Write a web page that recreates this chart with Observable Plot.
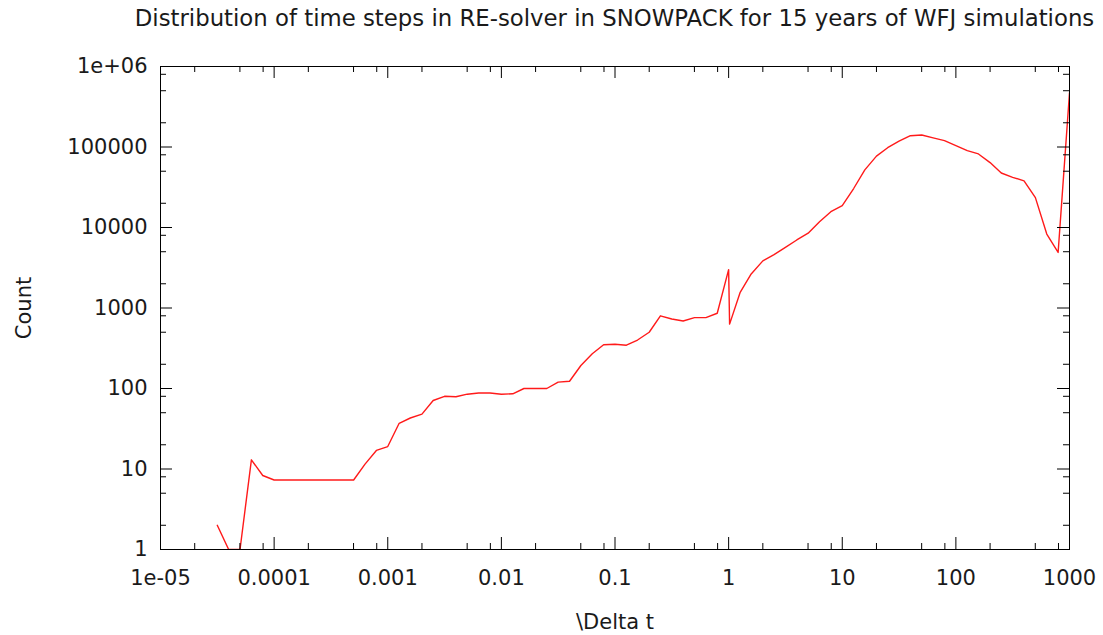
<!DOCTYPE html>
<html>
<head>
<meta charset="utf-8">
<script src="https://cdn.jsdelivr.net/npm/d3@7"></script>
<script src="https://cdn.jsdelivr.net/npm/@observablehq/plot@0.6"></script>
<style>
  body { margin: 0; background: #fff; font-family: "DejaVu Sans", sans-serif; }
  #wrap { position: relative; width: 1103px; height: 635px; overflow: hidden; }
  #title { height: 40px; position: relative; }
  #title span { position: absolute; left: 614.5px; top: 5px; transform: translateX(-50%); white-space: nowrap; font-size: 22.8px; color: #1a1a1a; }
  #chart svg { display: block; }
</style>
</head>
<body>
<div id="wrap">
  <div id="title"><span>Distribution of time steps in RE-solver in SNOWPACK for 15 years of WFJ simulations</span></div>
  <div id="chart"></div>
</div>
<script>
// Time step bins (\Delta t) and counts
const dt = [
  3.16e-5, 3.98e-5, 5.01e-5, 6.31e-5, 7.94e-5,
  1e-4, 1.26e-4, 1.58e-4, 2.0e-4, 2.51e-4, 3.16e-4, 3.98e-4, 5.01e-4, 6.31e-4, 7.94e-4,
  1e-3, 1.26e-3, 1.58e-3, 2.0e-3, 2.51e-3, 3.16e-3, 3.98e-3, 5.01e-3, 6.31e-3, 7.94e-3,
  1e-2, 1.26e-2, 1.58e-2, 2.0e-2, 2.51e-2, 3.16e-2, 3.98e-2, 5.01e-2, 6.31e-2, 7.94e-2,
  0.1, 0.126, 0.158, 0.2, 0.251, 0.316, 0.398, 0.501, 0.631, 0.794,
  1.0, 1.02, 1.26, 1.58, 2.0, 2.51, 3.16, 3.98, 5.01, 6.31, 7.94,
  10, 12.6, 15.8, 20, 25.1, 31.6, 39.8, 50.1, 63.1, 79.4,
  100, 126, 158, 200, 251, 316, 398, 501, 631, 794,
  1000
];
const count = [
  2, 1, 1, 13, 8.3,
  7.3, 7.3, 7.3, 7.3, 7.3, 7.3, 7.3, 7.3, 11.5, 17,
  19, 37, 43, 48, 71, 80, 79, 85, 88, 88,
  85, 86, 100, 100, 100, 120, 123, 193, 270, 350,
  355, 345, 400, 500, 800, 730, 690, 760, 760, 860,
  3000, 630, 1550, 2650, 3850, 4600, 5650, 7000, 8500, 11800, 15700,
  18700, 30500, 52000, 77000, 98000, 118000, 138000, 141000, 130000, 120000,
  104000, 90000, 82000, 64000, 47500, 42000, 38000, 23500, 8300, 4900,
  470000
];

const xTicks = [1e-5, 1e-4, 1e-3, 1e-2, 1e-1, 1, 10, 100, 1000];
const xTickLabels = ["1e-05", "0.0001", "0.001", "0.01", "0.1", "1", "10", "100", "1000"];
const yTicks = [1, 10, 100, 1000, 10000, 100000, 1000000];
const yTickLabels = ["1", "10", "100", "1000", "10000", "100000", "1e+06"];
const minorSteps = [2, 5, 8];

const xMinor = xTicks.slice(0, -1).flatMap(d => minorSteps.map(m => d * m));
const yMinor = yTicks.slice(0, -1).flatMap(d => minorSteps.map(m => d * m));

const data = dt.map((x, i) => ({x, y: count[i]}));

const W = 1103, H = 595, mT = 26, mB = 86, mL = 160, mR = 34;
const fw = W - mL - mR, fh = H - mT - mB;
const major = 12, minor = 6;
const tk = {stroke: "#000", strokeWidth: 1};

const chart = Plot.plot({
  width: W, height: H,
  marginTop: mT, marginBottom: mB, marginLeft: mL, marginRight: mR,
  style: {fontFamily: "DejaVu Sans, sans-serif", fontSize: "21px", color: "#1a1a1a", background: "#fff"},
  x: {type: "log", domain: [1e-5, 1000]},
  y: {type: "log", domain: [1, 1e6]},
  marks: [
    Plot.line(data, {x: "x", y: "y", stroke: "#ff1a1a", strokeWidth: 1.4, clip: true}),
    // inward ticks on all four sides
    Plot.ruleX(xTicks, {x: d => d, insetTop: fh - major, ...tk}),
    Plot.ruleX(xTicks, {x: d => d, insetBottom: fh - major, ...tk}),
    Plot.ruleX(xMinor, {x: d => d, insetTop: fh - minor, ...tk}),
    Plot.ruleX(xMinor, {x: d => d, insetBottom: fh - minor, ...tk}),
    Plot.ruleY(yTicks, {y: d => d, insetRight: fw - major, ...tk}),
    Plot.ruleY(yTicks, {y: d => d, insetLeft: fw - major, ...tk}),
    Plot.ruleY(yMinor, {y: d => d, insetRight: fw - minor, ...tk}),
    Plot.ruleY(yMinor, {y: d => d, insetLeft: fw - minor, ...tk}),
    Plot.frame({stroke: "#000", strokeWidth: 1}),
    Plot.axisX(xTicks, {tickSize: 0, tickPadding: 21, tickFormat: d => xTickLabels[xTicks.indexOf(d)], label: null, fill: "#1a1a1a"}),
    Plot.axisY(yTicks, {tickSize: 0, tickPadding: 13, tickFormat: d => yTickLabels[yTicks.indexOf(d)], label: null, fill: "#1a1a1a"}),
    Plot.text(["Count"], {text: d => d, frameAnchor: "left", dx: -136, rotate: -90, textAnchor: "middle", lineAnchor: "middle", fill: "#1a1a1a"}),
    Plot.text(["\\Delta t"], {text: d => d, frameAnchor: "bottom", dy: 73, textAnchor: "middle", lineAnchor: "middle", fill: "#1a1a1a"})
  ]
});
document.getElementById("chart").appendChild(chart);
</script>
</body>
</html>
